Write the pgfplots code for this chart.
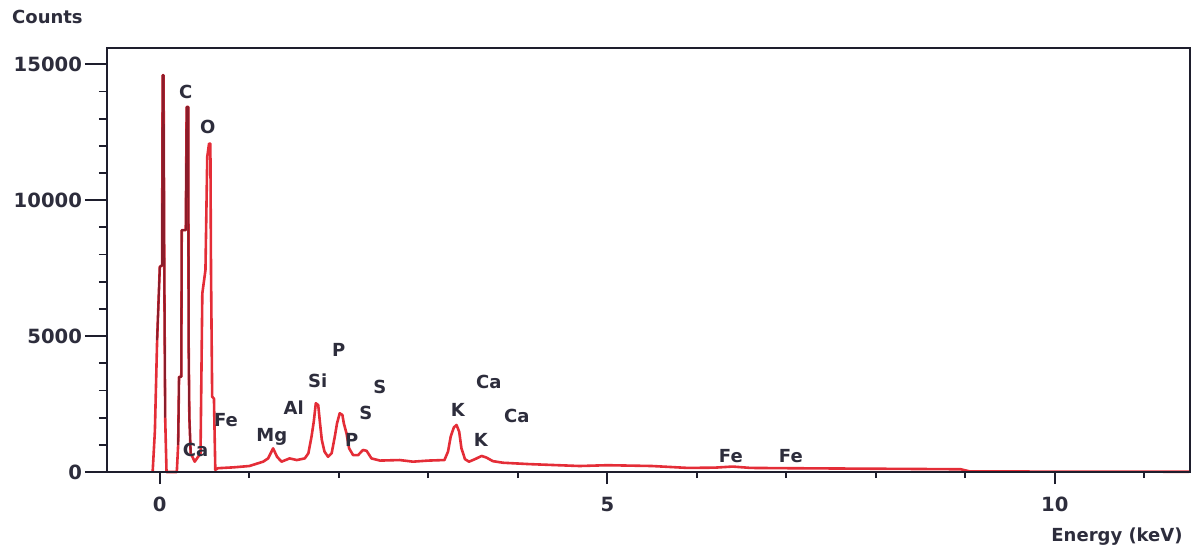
\documentclass[border=0pt]{standalone}
\usepackage{pgfplots}
\pgfplotsset{compat=1.18}
\usepackage{fontspec}
\setmainfont{DejaVu Sans}
\definecolor{axiscol}{RGB}{30,30,45}
\definecolor{textcol}{RGB}{45,45,60}
\definecolor{specred}{RGB}{228,45,55}
\definecolor{darkred}{RGB}{140,28,42}
\newcommand{\lbl}{\fontsize{9}{10}\selectfont\bfseries}
\newcommand{\tlbl}{\fontsize{9.8}{11}\selectfont\bfseries}

\pgfplotstableread{
x y
-0.08 0
-0.055 1500
-0.03 4850
0.000 7550
0.025 7600
0.032 14600
0.042 14600
0.050 7550
0.060 2000
0.075 0
0.190 0
0.205 1000
0.215 3500
0.240 3500
0.245 8900
0.290 8900
0.300 13430
0.318 13430
0.322 4850
0.330 2030
0.345 690
0.390 380
0.455 690
0.475 6570
0.510 7430
0.530 11590
0.550 12080
0.565 12080
0.572 7430
0.585 2770
0.605 2700
0.620 80
0.650 140
0.820 170
1.000 220
1.155 380
1.210 500
1.266 870
1.310 560
1.360 380
1.450 500
1.530 440
1.620 500
1.660 690
1.695 1300
1.720 1850
1.743 2530
1.770 2460
1.790 1790
1.810 1180
1.840 750
1.880 560
1.920 690
1.955 1300
1.980 1790
2.010 2160
2.040 2100
2.056 1790
2.086 1420
2.115 870
2.160 620
2.215 620
2.270 810
2.310 780
2.365 500
2.460 420
2.680 440
2.830 380
3.000 420
3.180 440
3.220 750
3.250 1300
3.285 1640
3.315 1730
3.345 1480
3.370 870
3.410 470
3.455 380
3.520 470
3.595 590
3.650 530
3.720 400
3.835 340
4.130 290
4.690 220
5.000 250
5.500 220
5.900 150
6.200 160
6.400 200
6.600 150
7.000 140
7.500 130
8.000 120
8.500 110
8.950 100
9.050 20
10.000 15
11.500 10
}\spectrum

\pgfplotstableread{
x y
-0.03 4850
0.000 7550
0.025 7600
0.032 14600
0.042 14600
0.050 7550
0.060 2000
}\darkA

\pgfplotstableread{
x y
0.205 1000
0.215 3500
0.240 3500
0.245 8900
0.290 8900
0.300 13430
0.318 13430
0.322 4850
0.330 2030
0.345 690
}\darkB

\begin{document}
\begin{tikzpicture}
\useasboundingbox (0,0) rectangle (602pt,275.5pt);
\begin{axis}[
  at={(53.5pt,39.5pt)}, anchor=south west,
  scale only axis, width=541.5pt, height=212pt,
  xmin=-0.59, xmax=11.51, ymin=0, ymax=15600,
  xtick=\empty,
  ytick={0,5000,10000,15000},
  minor ytick={1000,2000,...,15000},
  scaled y ticks=false,
  tick align=outside, tick pos=left,
  major tick length=11pt, minor tick length=4pt,
  axis line style={color=axiscol, line width=1pt},
  every tick/.style={axiscol, line width=0.9pt},
  yticklabel style={font=\tlbl, text=textcol, xshift=2pt},
  /pgf/number format/1000 sep={},
  /pgf/number format/assume math mode=true,
  clip=false,
]
\addplot[specred, line width=1.3pt, line join=round, no marks] table {\spectrum};
\addplot[darkred, line width=1pt, line join=round, no marks] table {\darkA};
\addplot[darkred, line width=1pt, line join=round, no marks] table {\darkB};

\node[font=\lbl, text=textcol] at (axis cs:0.29,13970) {C};
\node[font=\lbl, text=textcol] at (axis cs:0.536,12680) {O};
\node[font=\lbl, text=textcol] at (axis cs:0.74,1910) {Fe};
\node[font=\lbl, text=textcol] at (axis cs:0.40,800) {Ca};
\node[font=\lbl, text=textcol] at (axis cs:1.251,1290) {Mg};
\node[font=\lbl, text=textcol] at (axis cs:1.497,2350) {Al};
\node[font=\lbl, text=textcol] at (axis cs:1.765,3350) {Si};
\node[font=\lbl, text=textcol] at (axis cs:2.0,4490) {P};
\node[font=\lbl, text=textcol] at (axis cs:2.145,1180) {P};
\node[font=\lbl, text=textcol] at (axis cs:2.458,3130) {S};
\node[font=\lbl, text=textcol] at (axis cs:2.302,2170) {S};
\node[font=\lbl, text=textcol] at (axis cs:3.33,2280) {K};
\node[font=\lbl, text=textcol] at (axis cs:3.587,1180) {K};
\node[font=\lbl, text=textcol] at (axis cs:3.676,3310) {Ca};
\node[font=\lbl, text=textcol] at (axis cs:3.989,2060) {Ca};
\node[font=\lbl, text=textcol] at (axis cs:6.38,590) {Fe};
\node[font=\lbl, text=textcol] at (axis cs:7.05,590) {Fe};

\node[font=\lbl, text=textcol] at (axis description cs:-0.055,1.073) {Counts};
\node[font=\lbl, text=textcol] at (axis description cs:0.9326,-0.153) {Energy (keV)};
\end{axis}
\begin{axis}[
  at={(53.5pt,39.5pt)}, anchor=south west,
  scale only axis, width=541.5pt, height=212pt,
  xmin=-0.59, xmax=11.51, ymin=0, ymax=15600,
  hide y axis,
  xtick={0,5,10},
  minor xtick={1,2,3,4,6,7,8,9,11},
  tick align=outside, tick pos=left,
  major tick length=6pt, minor tick length=3pt,
  axis line style={color=axiscol, line width=1pt},
  every tick/.style={axiscol, line width=0.9pt},
  xticklabel style={font=\tlbl, text=textcol, yshift=-3pt},
  /pgf/number format/assume math mode=true,
]
\end{axis}
\end{tikzpicture}
\end{document}
